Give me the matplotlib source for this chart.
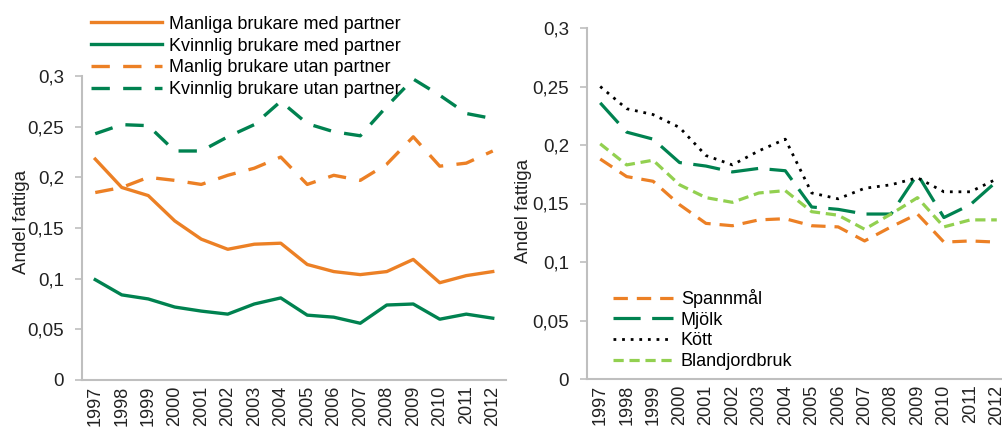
import matplotlib
matplotlib.use("Agg")
import matplotlib.pyplot as plt

# data
years = [str(y) for y in range(1997, 2013)]

man_med_partner = [0.218, 0.190, 0.182, 0.157, 0.139, 0.129, 0.134, 0.135,
                   0.114, 0.107, 0.104, 0.107, 0.119, 0.096, 0.103, 0.107]
kvinna_med_partner = [0.099, 0.084, 0.080, 0.072, 0.068, 0.065, 0.075, 0.081,
                      0.064, 0.062, 0.056, 0.074, 0.075, 0.060, 0.065, 0.061]
man_utan_partner = [0.185, 0.190, 0.200, 0.197, 0.193, 0.202, 0.209, 0.220,
                    0.193, 0.202, 0.197, 0.213, 0.240, 0.211, 0.214, 0.226]
kvinna_utan_partner = [0.243, 0.252, 0.251, 0.226, 0.226, 0.240, 0.252, 0.275,
                       0.253, 0.245, 0.241, 0.270, 0.297, 0.281, 0.263, 0.258]

spannmal = [0.188, 0.173, 0.169, 0.149, 0.133, 0.131, 0.136, 0.137,
            0.131, 0.130, 0.118, 0.130, 0.141, 0.117, 0.118, 0.117]
mjolk = [0.236, 0.211, 0.205, 0.185, 0.182, 0.177, 0.180, 0.178,
         0.147, 0.145, 0.141, 0.141, 0.175, 0.138, 0.149, 0.169]
kott = [0.250, 0.231, 0.226, 0.215, 0.191, 0.183, 0.195, 0.205,
        0.159, 0.154, 0.163, 0.166, 0.172, 0.160, 0.160, 0.171]
blandjordbruk = [0.201, 0.183, 0.187, 0.166, 0.155, 0.151, 0.159, 0.161,
                 0.143, 0.140, 0.128, 0.141, 0.155, 0.130, 0.136, 0.136]

yticks = [0, 0.05, 0.1, 0.15, 0.2, 0.25, 0.3]
ytick_labels = ["0", "0,05", "0,1", "0,15", "0,2", "0,25", "0,3"]

ORANGE = "#ec8025"
GREEN = "#008250"
LIGHT = "#92d050"
GREY = "#bfbfbf"

plt.rcParams["font.family"] = ["Liberation Sans Narrow", "Liberation Sans", "DejaVu Sans"]
plt.rcParams["font.size"] = 13.5

W, H = 1003, 428
fig = plt.figure(figsize=(W / 100, H / 100), dpi=100)


def px_axes(left, top, right, bottom):
    return fig.add_axes([left / W, 1 - bottom / H, (right - left) / W, (bottom - top) / H])


def style_axis(ax):
    x = list(range(len(years)))
    ax.set_xlim(-0.5, len(years) - 0.5)
    ax.set_ylim(0, 0.3)
    ax.set_yticks(yticks)
    ax.set_yticklabels(ytick_labels)
    ax.set_xticks(x)
    ax.set_xticklabels(years, rotation=90, va="top", fontsize=13)
    ax.tick_params(axis="x", length=0, pad=4, colors="#222222")
    ax.tick_params(axis="y", length=5, width=1.2, color=GREY, pad=8, labelcolor="#222222")
    for s in ["top", "right"]:
        ax.spines[s].set_visible(False)
    for s in ["left", "bottom"]:
        ax.spines[s].set_color(GREY)
        ax.spines[s].set_linewidth(1.5)
    ax.set_ylabel("Andel fattiga", color="#222222")
    return x


# left panel
ax1 = px_axes(82, 76, 506, 380)
x = style_axis(ax1)
ax1.yaxis.set_label_coords(-0.122, 0.52)
ax1.plot(x, man_med_partner, color=ORANGE, lw=2.4, label="Manliga brukare med partner")
ax1.plot(x, kvinna_med_partner, color=GREEN, lw=2.4, label="Kvinnlig brukare med partner")
ax1.plot(x, man_utan_partner, color=ORANGE, lw=2.4, dashes=(5.5, 4),
         label="Manlig brukare utan partner")
ax1.plot(x, kvinna_utan_partner, color=GREEN, lw=2.4, dashes=(5.5, 4),
         label="Kvinnlig brukare utan partner")
ax1.legend(loc="upper left", bbox_to_anchor=(0.005, 1.222), frameon=False,
           handlelength=3.9, handletextpad=0.4, labelspacing=0.27,
           borderaxespad=0, fontsize=13)

# right panel
ax2 = px_axes(587, 28, 1010, 379)
x = style_axis(ax2)
ax2.yaxis.set_label_coords(-0.13, 0.48)
ax2.plot(x, spannmal, color=ORANGE, lw=2.3, dashes=(4.5, 2.8), label="Spannmål")
ax2.plot(x, mjolk, color=GREEN, lw=2.3, dashes=(8.5, 3.6), label="Mjölk")
ax2.plot(x, kott, color="black", lw=2.0, dashes=(1, 2.1), label="Kött")
ax2.plot(x, blandjordbruk, color=LIGHT, lw=2.3, dashes=(3.2, 1.8), label="Blandjordbruk")
ax2.legend(loc="lower left", bbox_to_anchor=(0.045, 0.005), frameon=False,
           handlelength=3.3, handletextpad=0.45, labelspacing=0.2,
           borderaxespad=0, fontsize=13)

fig.savefig("out.png", dpi=100)
